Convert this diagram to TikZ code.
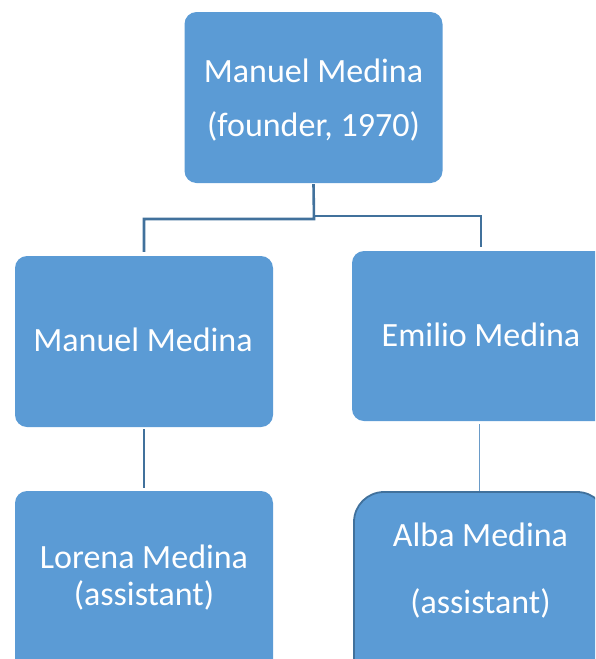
\documentclass[tikz,border=0pt]{standalone}
\usepackage{fontspec}
\setmainfont{Carlito}
\definecolor{boxfill}{HTML}{5B9BD5}
\definecolor{linedark}{HTML}{41719C}
\definecolor{linelight}{HTML}{6A9BC8}
\begin{document}
\begin{tikzpicture}[x=1pt,y=1pt,
  box/.style={draw=none, fill=boxfill, rounded corners=12pt, minimum width=258pt, inner sep=0pt},
  txt/.style={text=white, font=\fontsize{34}{40}\selectfont, anchor=base, inner sep=0pt},
  conn/.style={draw=linedark, line width=2.6pt}]
\useasboundingbox (0,0) rectangle (595,-659);
\clip (0,0) rectangle (595,-659);
% boxes
\node[box, minimum height=171pt] (top) at (313.5,-97.5) {};
\node[box, minimum height=171pt] (m1) at (144,-341.5) {};
\node[box, minimum height=170pt] (m2) at (481,-336) {};
\node[box, minimum height=200pt] (b1) at (144,-591) {};
\node[box, draw=linedark, line width=1.8pt, rounded corners=30pt, minimum width=253pt, minimum height=200pt] (b2) at (480.5,-592) {};
% texts
\node[txt] (t1) at (313.5,-82) {Manuel Medina};
\node[txt] (t2) at (313.5,-136) {(founder, 1970)};
\node[txt] (t3) at (143,-351) {Manuel Medina};
\node[txt] (t4) at (481,-346) {Emilio Medina};
\node[txt] (t5) at (144,-568) {Lorena Medina};
\node[txt] (t6) at (144,-605) {(assistant)};
\node[txt] (t7) at (480.5,-546) {Alba Medina};
\node[txt] (t8) at (480.5,-613) {(assistant)};
% connectors
\coordinate (jl) at (314,-219);
\coordinate (jr) at (314,-216);
\draw[conn] ([yshift=-1pt]top.south) -- (jl) -| ([yshift=4pt]m1.north);
\draw[conn, line width=2pt] (jr) -| ([xshift=0pt,yshift=4pt]m2.north);
\draw[conn, line width=2pt] ([yshift=-2pt]m1.south) -- ([yshift=3pt]b1.north);
\draw[draw=linelight, line width=1pt] ([xshift=-2pt,yshift=-3pt]m2.south) -- ([xshift=-1.5pt]b2.north);
\end{tikzpicture}
\end{document}
